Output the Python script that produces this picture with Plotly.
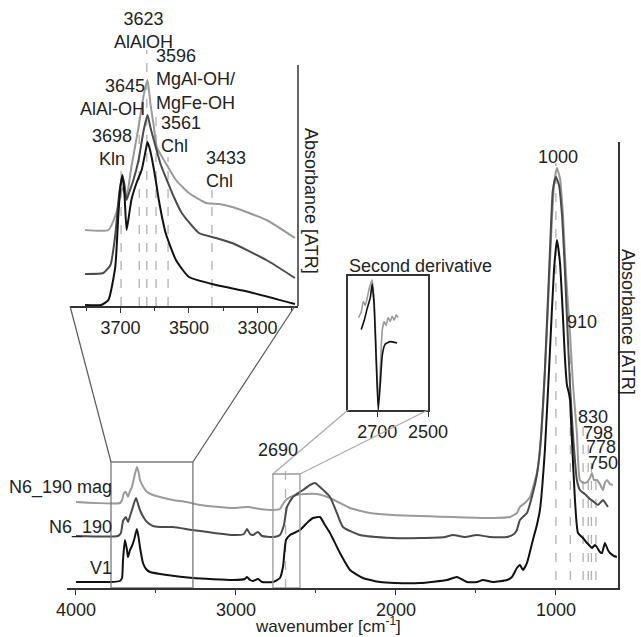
import plotly.graph_objects as go

W, H = 641, 637
FONT = "Arial, Liberation Sans, sans-serif"
TXT = "#222222"

# ---------------- main spectra (wavenumber, absorbance a.u.) ----------------
v1_wn = [4000, 3788, 3725, 3712, 3706, 3694, 3681, 3675, 3662, 3650, 3637, 3619, 3606, 3600,
         3581, 3562, 3537, 3431, 3269, 3019, 2944, 2931, 2912, 2894, 2862, 2837, 2769, 2725,
         2706, 2687, 2662, 2600, 2550, 2519, 2475, 2444, 2412, 2350, 2287, 2206, 2100, 2006,
         1850, 1681, 1619, 1556, 1494, 1456, 1394, 1306, 1275, 1244, 1225, 1206, 1181, 1144,
         1119, 1100, 1069, 1037, 1012, 994, 975, 956, 944, 931, 919, 912, 900, 881, 862, 831,
         806, 787, 775, 756, 744, 725, 712, 694, 675, 662, 637, 619]
v1_abs = [0.06, 0.06, 0.07, 0.10, 0.28, 0.48, 0.38, 0.31, 0.38, 0.42, 0.48, 0.59, 0.48, 0.41,
          0.25, 0.19, 0.16, 0.13, 0.10, 0.08, 0.09, 0.11, 0.08, 0.07, 0.09, 0.06, 0.06, 0.10,
          0.21, 0.48, 0.53, 0.58, 0.66, 0.70, 0.71, 0.63, 0.55, 0.35, 0.18, 0.10, 0.06, 0.05,
          0.05, 0.08, 0.11, 0.06, 0.06, 0.08, 0.06, 0.08, 0.11, 0.20, 0.23, 0.18, 0.25, 0.48,
          0.63, 0.78, 1.38, 2.38, 3.18, 3.48, 3.26, 2.71, 2.31, 2.03, 1.95, 1.88, 1.48, 0.88,
          0.55, 0.50, 0.45, 0.42, 0.40, 0.43, 0.41, 0.36, 0.35, 0.45, 0.38, 0.35, 0.32, 0.31]

n6_wn = [4000, 3738, 3719, 3706, 3688, 3675, 3662, 3650, 3625, 3612, 3600, 3575, 3556, 3519,
         3475, 3394, 3269, 3019, 2950, 2931, 2912, 2894, 2862, 2837, 2769, 2725, 2700, 2681,
         2644, 2581, 2537, 2506, 2475, 2412, 2369, 2331, 2225, 2019, 1850, 1694, 1644, 1569,
         1494, 1412, 1306, 1262, 1244, 1225, 1200, 1181, 1144, 1119, 1100, 1069, 1037, 1019,
         1000, 981, 962, 944, 925, 912, 894, 869, 850, 819, 787, 762, 737, 706, 687, 675]
n6_abs = [0.52, 0.52, 0.55, 0.67, 0.71, 0.66, 0.72, 0.78, 0.90, 0.84, 0.78, 0.70, 0.66, 0.62,
          0.61, 0.61, 0.58, 0.53, 0.54, 0.59, 0.54, 0.53, 0.56, 0.52, 0.51, 0.53, 0.63, 0.81,
          0.91, 0.98, 1.03, 1.05, 1.01, 0.91, 0.75, 0.61, 0.53, 0.50, 0.50, 0.51, 0.53, 0.51,
          0.53, 0.51, 0.51, 0.54, 0.58, 0.68, 0.72, 0.75, 0.95, 1.13, 1.38, 2.18, 3.38, 3.98,
          4.11, 4.03, 3.73, 3.18, 2.48, 2.03, 1.55, 1.08, 0.98, 0.94, 0.89, 0.86, 0.83, 0.88,
          0.84, 0.81]

mag_wn = [4000, 3725, 3712, 3700, 3688, 3675, 3662, 3650, 3637, 3619, 3606, 3600, 3575, 3556,
          3519, 3475, 3394, 3306, 3225, 3019, 2925, 2850, 2769, 2725, 2706, 2681, 2644, 2569,
          2494, 2412, 2350, 2287, 2162, 2019, 1644, 1394, 1288, 1244, 1225, 1194, 1162, 1131,
          1119, 1094, 1062, 1031, 1012, 994, 975, 956, 937, 912, 894, 869, 850, 825, 806, 787,
          775, 762, 744, 725, 706, 694, 681, 662, 644]
mag_abs = [0.86, 0.85, 0.88, 0.95, 0.96, 0.91, 0.97, 1.01, 1.10, 1.21, 1.14, 1.08, 1.00, 0.96,
           0.93, 0.91, 0.88, 0.86, 0.83, 0.80, 0.81, 0.79, 0.78, 0.79, 0.84, 0.89, 0.92, 0.94,
           0.94, 0.90, 0.85, 0.80, 0.75, 0.73, 0.71, 0.70, 0.71, 0.75, 0.81, 0.85, 0.91, 1.08,
           1.15, 1.48, 2.38, 3.48, 4.03, 4.20, 4.10, 3.73, 3.13, 2.55, 2.05, 1.55, 1.08, 1.05,
           1.06, 1.10, 1.15, 1.08, 1.08, 1.04, 0.98, 1.05, 1.08, 1.04, 1.03]

# ---------------- OH-region inset ----------------
oh_v1_wn = [3803, 3756, 3735, 3715, 3706, 3700, 3694, 3688, 3682, 3676, 3668, 3653, 3638, 3626,
            3621, 3615, 3609, 3597, 3588, 3568, 3538, 3500, 3421, 3324, 3191]
oh_v1_abs = [0.01, 0.01, 0.06, 0.39, 0.91, 1.19, 1.31, 1.11, 0.76, 0.88, 1.06, 1.23, 1.36, 1.56,
             1.64, 1.58, 1.49, 1.26, 1.06, 0.73, 0.46, 0.29, 0.21, 0.14, 0.02]
oh_n6_wn = [3803, 3750, 3729, 3715, 3703, 3694, 3688, 3682, 3674, 3662, 3647, 3632, 3621, 3612,
            3597, 3582, 3568, 3544, 3521, 3471, 3421, 3374, 3274, 3191]
oh_n6_abs = [0.32, 0.33, 0.41, 0.71, 1.14, 1.30, 1.21, 1.06, 1.14, 1.26, 1.46, 1.76, 1.91, 1.78,
             1.59, 1.41, 1.29, 1.09, 0.93, 0.73, 0.68, 0.63, 0.46, 0.28]
oh_mag_wn = [3803, 3735, 3712, 3703, 3694, 3688, 3682, 3668, 3647, 3632, 3621, 3612, 3603, 3594,
             3568, 3538, 3500, 3450, 3412, 3374, 3274, 3191]
oh_mag_abs = [0.76, 0.76, 0.93, 1.06, 1.18, 1.14, 1.09, 1.39, 1.79, 2.11, 2.26, 2.01, 1.81, 1.59,
              1.43, 1.26, 1.13, 1.03, 1.02, 0.99, 0.86, 0.68]

# ---------------- second derivative inset ----------------
d2_mag_wn = [2774, 2763, 2755, 2747, 2739, 2731, 2720, 2712, 2704, 2696, 2688, 2680, 2672, 2665,
             2657, 2649, 2641, 2633, 2625, 2618]
d2_mag = [0.69, 0.73, 0.81, 0.78, 0.84, 0.91, 0.97, 0.82, 0.45, 0.04, 0.30, 0.60, 0.66, 0.63,
          0.69, 0.66, 0.70, 0.67, 0.71, 0.69]
d2_v1_wn = [2763, 2751, 2739, 2727, 2720, 2712, 2704, 2696, 2688, 2680, 2669, 2649, 2622]
d2_v1 = [0.60, 0.67, 0.76, 0.84, 0.94, 0.78, 0.37, 0.0, 0.19, 0.41, 0.49, 0.51, 0.50]

# ---------------- labels ----------------
sample_names = ["N6_190 mag", "N6_190", "V1"]
main_bands = [1000, 910, 830, 798, 778, 750]
band_2690 = 2690
oh_bands = [3698, 3645, 3623, 3596, 3561, 3433]
oh_labels = ["3698<br>Kln", "3645<br>AlAl-OH", "3623<br>AlAlOH", "3596<br>MgAl-OH/<br>MgFe-OH",
             "3561<br>Chl", "3433<br>Chl"]
main_ticks = [4000, 3000, 2000, 1000]
main_minor = [3500, 2500, 1500]
oh_ticks = [3700, 3500, 3300]
oh_minor = [3800, 3600, 3400, 3200]
d2_ticks = [2700, 2500]
zoom_box_oh = [3781, 3269]
zoom_box_d2 = [2769, 2600]

C_V1, C_N6, C_MAG = "#111111", "#4a4a4a", "#9a9a9a"

def px(x):
    return x / W

def py(y):
    return 1 - y / H

X1_DOM = [px(67), px(618)]; Y1_DOM = [py(588), py(142)]
X1_RNG = [4056, 612]; Y1_RNG = [0, 4.46]
X2_DOM = [px(70), px(298)]; Y2_DOM = [py(306), py(40)]
X2_RNG = [3847, 3182]; Y2_RNG = [0, 2.66]
X3_DOM = [px(348), px(428)]; Y3_DOM = [py(410), py(276)]
X3_RNG = [2815, 2500]; Y3_RNG = [0, 1.0]

def main_to_paper(wn, a):
    fx = (wn - X1_RNG[0]) / (X1_RNG[1] - X1_RNG[0])
    fy = (a - Y1_RNG[0]) / (Y1_RNG[1] - Y1_RNG[0])
    return X1_DOM[0] + fx * (X1_DOM[1] - X1_DOM[0]), Y1_DOM[0] + fy * (Y1_DOM[1] - Y1_DOM[0])

fig = go.Figure()
lw = 2
sm = 0.5
for wn, ab, c in [(mag_wn, mag_abs, C_MAG), (n6_wn, n6_abs, C_N6), (v1_wn, v1_abs, C_V1)]:
    fig.add_trace(go.Scatter(x=wn, y=ab, mode="lines", line=dict(color=c, width=lw, shape="spline", smoothing=sm),
                             xaxis="x", yaxis="y", showlegend=False, hoverinfo="skip"))
for wn, ab, c in [(oh_mag_wn, oh_mag_abs, C_MAG), (oh_n6_wn, oh_n6_abs, C_N6), (oh_v1_wn, oh_v1_abs, C_V1)]:
    fig.add_trace(go.Scatter(x=wn, y=ab, mode="lines", line=dict(color=c, width=lw, shape="spline", smoothing=sm),
                             xaxis="x2", yaxis="y2", showlegend=False, hoverinfo="skip"))
for wn, ab, c in [(d2_mag_wn, d2_mag, C_MAG), (d2_v1_wn, d2_v1, C_V1)]:
    fig.add_trace(go.Scatter(x=wn, y=ab, mode="lines", line=dict(color=c, width=1.6, shape="spline", smoothing=0.4),
                             xaxis="x3", yaxis="y3", showlegend=False, hoverinfo="skip"))

shapes = []
dash = dict(color="#b0b0b0", width=1.3, dash="dash")
main_tops = [4.25, 2.62, 1.61, 1.46, 1.32, 1.16]
for b, t in zip(main_bands, main_tops):
    shapes.append(dict(type="line", xref="x", yref="y", x0=b, x1=b, y0=0.08, y1=t, line=dash, layer="below"))
shapes.append(dict(type="line", xref="x", yref="y", x0=band_2690, x1=band_2690, y0=0.0, y1=1.2, line=dash, layer="below"))
oh_tops = [1.39, 1.93, 2.56, 1.96, 1.49, 1.16]
for b, t in zip(oh_bands, oh_tops):
    shapes.append(dict(type="line", xref="x2", yref="y2", x0=b, x1=b, y0=0, y1=t, line=dash, layer="below"))

shapes.append(dict(type="rect", xref="x", yref="y", x0=zoom_box_oh[0], x1=zoom_box_oh[1], y0=0, y1=1.26,
                   line=dict(color="#7a7a7a", width=1.3)))
shapes.append(dict(type="rect", xref="x", yref="y", x0=zoom_box_d2[0], x1=zoom_box_d2[1], y0=0, y1=1.14,
                   line=dict(color="#9a9a9a", width=1.3)))
a0 = main_to_paper(zoom_box_oh[0], 1.26); a1 = main_to_paper(zoom_box_oh[1], 1.26)
shapes.append(dict(type="line", xref="paper", yref="paper", x0=a0[0], y0=a0[1], x1=X2_DOM[0], y1=Y2_DOM[0],
                   line=dict(color="#5a5a5a", width=1.2)))
shapes.append(dict(type="line", xref="paper", yref="paper", x0=a1[0], y0=a1[1], x1=px(295), y1=Y2_DOM[0],
                   line=dict(color="#5a5a5a", width=1.2)))
b0 = main_to_paper(zoom_box_d2[0], 1.14); b1 = main_to_paper(zoom_box_d2[1], 1.14)
shapes.append(dict(type="line", xref="paper", yref="paper", x0=b0[0], y0=b0[1], x1=X3_DOM[0], y1=Y3_DOM[0],
                   line=dict(color="#a8a8a8", width=1.2)))
shapes.append(dict(type="line", xref="paper", yref="paper", x0=b1[0], y0=b1[1], x1=X3_DOM[1], y1=Y3_DOM[0],
                   line=dict(color="#a8a8a8", width=1.2)))
shapes.append(dict(type="line", xref="paper", yref="paper", x0=X2_DOM[1], x1=X2_DOM[1], y0=Y2_DOM[0], y1=py(65),
                   line=dict(color="#333333", width=1.5)))

fnt = dict(family=FONT, size=18, color=TXT)
ann = []
def A(text, x, y, xanchor="center", align="center", angle=0, size=18):
    ann.append(dict(text=text, x=px(x), y=py(y), xref="paper", yref="paper", showarrow=False,
                    xanchor=xanchor, yanchor="middle", align=align, textangle=angle,
                    font=dict(family=FONT, size=size, color=TXT)))

for b, (x, y) in zip(main_bands, [(558, 157), (582, 322), (593, 417), (598, 433), (601, 447), (603, 463)]):
    A(str(b), x, y)
A(str(band_2690), 278, 450)
A("Second derivative", 420, 266)
for name, (x, y) in zip(sample_names, [(114, 487), (114, 527), (114, 568)]):
    A(name, x, y, xanchor="right")
A("wavenumber [cm<sup>-1</sup>]", 328, 625, size=17)
A("Absorbance [ATR]", 628, 322, angle=90)
A("Absorbance [ATR]", 311, 201, angle=90)
oh_pos = [(112, 147, "center", "center"), (147, 97, "right", "right"), (143, 31, "center", "center"),
          (154, 79, "left", "left"), (159, 134, "left", "left"), (204, 170, "left", "left")]
for lab, (x, y, xa, al) in zip(oh_labels, oh_pos):
    A(lab, x, y, xanchor=xa, align=al)

axcol = "#333333"
common = dict(showgrid=False, zeroline=False, automargin=False)
fig.update_layout(
    width=W, height=H, autosize=False, margin=dict(l=0, r=0, t=0, b=0, pad=0, autoexpand=False),
    paper_bgcolor="white", plot_bgcolor="rgba(0,0,0,0)",
    font=dict(family=FONT, size=18, color=TXT),
    shapes=shapes, annotations=ann, showlegend=False,
    xaxis=dict(domain=X1_DOM, range=X1_RNG, anchor="y", tickvals=main_ticks, ticks="outside", ticklen=5,
               tickwidth=1.3, tickcolor=axcol, minor=dict(tickvals=main_minor, ticks="outside", ticklen=3,
               tickcolor=axcol), showline=True, linecolor=axcol, linewidth=1.5, tickfont=fnt, **common),
    yaxis=dict(domain=Y1_DOM, range=Y1_RNG, anchor="x", side="right", showline=True, linecolor=axcol,
               linewidth=1.5, showticklabels=False, ticks="", **common),
    xaxis2=dict(domain=X2_DOM, range=X2_RNG, anchor="y2", tickvals=oh_ticks, ticks="outside", ticklen=5,
                tickwidth=1.3, tickcolor=axcol, minor=dict(tickvals=oh_minor, ticks="outside", ticklen=3,
                tickcolor=axcol), showline=True, linecolor=axcol, linewidth=1.5, tickfont=fnt, **common),
    yaxis2=dict(domain=Y2_DOM, range=Y2_RNG, anchor="x2", showline=False, showticklabels=False, ticks="",
                **common),
    xaxis3=dict(domain=X3_DOM, range=X3_RNG, anchor="y3", tickvals=d2_ticks, ticks="outside", ticklen=5,
                tickwidth=1.3, tickcolor=axcol, showline=True, mirror=True, linecolor=axcol, linewidth=1.5,
                tickfont=fnt, **common),
    yaxis3=dict(domain=Y3_DOM, range=Y3_RNG, anchor="x3", showline=True, mirror=True, linecolor=axcol,
                linewidth=1.5, showticklabels=False, ticks="", **common),
)
fig.write_html("out.html", config={"displayModeBar": False})

with open("out.html", "r", encoding="utf-8") as f:
    html = f.read()
html = html.replace("<head>", "<head><style>html,body{margin:0;padding:0;overflow:hidden;}</style>", 1)
with open("out.html", "w", encoding="utf-8") as f:
    f.write(html)
